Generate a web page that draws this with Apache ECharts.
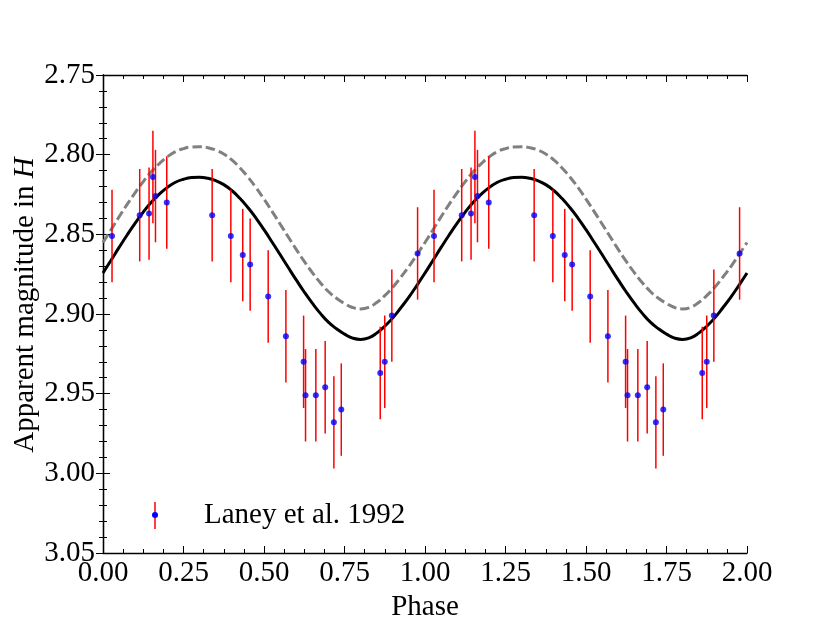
<!DOCTYPE html>
<html>
<head>
<meta charset="utf-8">
<script src="https://cdn.jsdelivr.net/npm/echarts@6/dist/echarts.min.js"></script>
<style>
html,body{margin:0;padding:0;background:#fff;}
#chart{width:830px;height:623px;}
</style>
</head>
<body>
<div id="chart"></div>
<script>
// Observed data (Laney et al. 1992), first cycle and repeated cycle
const phaseCycle1 = [0.028, 0.114, 0.143, 0.155, 0.163, 0.198, 0.339, 0.397, 0.434, 0.457, 0.513, 0.568, 0.623, 0.629, 0.661, 0.690, 0.717, 0.740, 0.861, 0.875, 0.897, 0.977];
const phaseCycle2 = [1.028, 1.114, 1.143, 1.155, 1.163, 1.198, 1.339, 1.397, 1.434, 1.457, 1.513, 1.568, 1.623, 1.629, 1.661, 1.690, 1.717, 1.740, 1.861, 1.875, 1.897, 1.977];
const magnitude = [2.851, 2.838, 2.837, 2.814, 2.826, 2.830, 2.838, 2.851, 2.863, 2.869, 2.889, 2.914, 2.930, 2.951, 2.951, 2.946, 2.968, 2.960, 2.937, 2.930, 2.901, 2.862];
const magError = [0.029, 0.029, 0.029, 0.029, 0.029, 0.029, 0.029, 0.029, 0.029, 0.029, 0.029, 0.029, 0.029, 0.029, 0.029, 0.029, 0.029, 0.029, 0.029, 0.029, 0.029, 0.029];

// Model curves
const modelPhase = [
  0.000, 0.025, 0.050, 0.075, 0.100, 0.125, 0.150, 0.175, 0.200, 0.225, 0.250, 0.275, 0.300, 0.325, 0.350, 0.375, 0.400, 0.425, 0.450, 0.475,
  0.500, 0.525, 0.550, 0.575, 0.600, 0.625, 0.650, 0.675, 0.700, 0.725, 0.750, 0.775, 0.800, 0.825, 0.850, 0.875, 0.900, 0.925, 0.950, 0.975,
  1.000, 1.025, 1.050, 1.075, 1.100, 1.125, 1.150, 1.175, 1.200, 1.225, 1.250, 1.275, 1.300, 1.325, 1.350, 1.375, 1.400, 1.425, 1.450, 1.475,
  1.500, 1.525, 1.550, 1.575, 1.600, 1.625, 1.650, 1.675, 1.700, 1.725, 1.750, 1.775, 1.800, 1.825, 1.850, 1.875, 1.900, 1.925, 1.950, 1.975,
  2.000];
const modelSolid = [
  2.8743, 2.8663, 2.8582, 2.8504, 2.8430, 2.8361, 2.8299, 2.8248, 2.8205, 2.8173, 2.8154, 2.8144, 2.8142, 2.8148, 2.8163, 2.8188, 2.8225, 2.8274, 2.8332, 2.8398,
  2.8471, 2.8548, 2.8627, 2.8707, 2.8786, 2.8862, 2.8932, 2.8996, 2.9051, 2.9093, 2.9126, 2.9151, 2.9160, 2.9150, 2.9120, 2.9077, 2.9024, 2.8961, 2.8894, 2.8820,
  2.8743, 2.8663, 2.8582, 2.8504, 2.8430, 2.8361, 2.8299, 2.8248, 2.8205, 2.8173, 2.8154, 2.8144, 2.8142, 2.8148, 2.8163, 2.8188, 2.8225, 2.8274, 2.8332, 2.8398,
  2.8471, 2.8548, 2.8627, 2.8707, 2.8786, 2.8862, 2.8932, 2.8996, 2.9051, 2.9093, 2.9126, 2.9151, 2.9160, 2.9150, 2.9120, 2.9077, 2.9024, 2.8961, 2.8894, 2.8820,
  2.8743];
const modelDashed = [
  2.8551, 2.8471, 2.8390, 2.8312, 2.8238, 2.8169, 2.8107, 2.8056, 2.8013, 2.7981, 2.7962, 2.7952, 2.7950, 2.7956, 2.7971, 2.7996, 2.8033, 2.8082, 2.8140, 2.8206,
  2.8279, 2.8356, 2.8435, 2.8515, 2.8594, 2.8670, 2.8740, 2.8804, 2.8859, 2.8901, 2.8934, 2.8959, 2.8968, 2.8958, 2.8928, 2.8885, 2.8832, 2.8769, 2.8702, 2.8628,
  2.8551, 2.8471, 2.8390, 2.8312, 2.8238, 2.8169, 2.8107, 2.8056, 2.8013, 2.7981, 2.7962, 2.7952, 2.7950, 2.7956, 2.7971, 2.7996, 2.8033, 2.8082, 2.8140, 2.8206,
  2.8279, 2.8356, 2.8435, 2.8515, 2.8594, 2.8670, 2.8740, 2.8804, 2.8859, 2.8901, 2.8934, 2.8959, 2.8968, 2.8958, 2.8928, 2.8885, 2.8832, 2.8769, 2.8702, 2.8628,
  2.8551];

// Axis ticks
const xTicks = ['0.00', '0.25', '0.50', '0.75', '1.00', '1.25', '1.50', '1.75', '2.00'];
const yTicks = ['2.75', '2.80', '2.85', '2.90', '2.95', '3.00', '3.05'];
const legendLabel = 'Laney et al. 1992';

const FONT = 'Liberation Serif';

const obs = [];
phaseCycle1.forEach((p, i) => obs.push([p, magnitude[i], magError[i]]));
phaseCycle2.forEach((p, i) => obs.push([p, magnitude[i], magError[i]]));

const solid = modelPhase.map((p, i) => [p, modelSolid[i]]);
const dashed = modelPhase.map((p, i) => [p, modelDashed[i]]);

const chart = echarts.init(document.getElementById('chart'), null, {renderer: 'canvas'});

function axisBase() {
  return {
    axisLine: {show: true, lineStyle: {color: '#000', width: 1.3}},
    axisTick: {show: true, inside: true, length: 7, lineStyle: {color: '#000', width: 1}},
    splitLine: {show: false}
  };
}

chart.setOption({
  animation: false,
  backgroundColor: '#fff',
  grid: {left: 103, right: 83, top: 75, bottom: 70, containLabel: false, outerBoundsMode: 'none'},
  xAxis: [
    Object.assign(axisBase(), {
      type: 'value', min: 0, max: 2, interval: 0.25, position: 'bottom',
      name: 'Phase', nameLocation: 'middle', nameGap: 39,
      nameTextStyle: {fontFamily: FONT, fontSize: 29, color: '#000'},
      axisLabel: {fontFamily: FONT, fontSize: 29, color: '#000', margin: 6,
        formatter: v => xTicks[Math.round(v / 0.25)]},
      minorTick: {show: true, splitNumber: 4, length: 4, lineStyle: {color: '#000', width: 1}}
    }),
    Object.assign(axisBase(), {
      type: 'value', min: 0, max: 2, interval: 0.25, position: 'top',
      axisLabel: {show: false},
      minorTick: {show: true, splitNumber: 4, length: 4, lineStyle: {color: '#000', width: 1}}
    })
  ],
  yAxis: [
    Object.assign(axisBase(), {
      type: 'value', min: 2.75, max: 3.05, interval: 0.05, inverse: true, position: 'left',
      axisLabel: {fontFamily: FONT, fontSize: 29, color: '#000', margin: 8,
        formatter: v => yTicks[Math.round((v - 2.75) / 0.05)]},
      minorTick: {show: true, splitNumber: 5, length: 4, lineStyle: {color: '#000', width: 1}}
    }),
    Object.assign(axisBase(), {
      type: 'value', min: 2.75, max: 3.05, interval: 0.05, inverse: true, position: 'right',
      axisLabel: {show: false},
      minorTick: {show: true, splitNumber: 5, length: 4, lineStyle: {color: '#000', width: 1}}
    })
  ],
  graphic: [
    {type: 'text', x: 25, y: 305, rotation: Math.PI / 2, z: 101,
     style: {text: '{a|Apparent magnitude in }{b|H}', align: 'center', verticalAlign: 'middle',
       fill: '#000', font: '29px "Liberation Serif"',
       rich: {a: {fontFamily: FONT, fontSize: 29, fill: '#000', color: '#000'},
              b: {fontFamily: FONT, fontSize: 29, fill: '#000', color: '#000', fontStyle: 'italic'}}}},
    {type: 'line', shape: {x1: 155, y1: 502, x2: 155, y2: 529}, style: {stroke: '#ff0000', lineWidth: 1.5}, z: 100},
    {type: 'circle', shape: {cx: 155, cy: 515, r: 3}, style: {fill: '#0000ff'}, z: 101},
    {type: 'text', left: 204, top: 501, style: {text: legendLabel, font: '29px "Liberation Serif"', fill: '#000'}, z: 101}
  ],
  series: [
    {type: 'line', data: dashed, smooth: true, symbol: 'none', xAxisIndex: 0, yAxisIndex: 0,
     lineStyle: {color: '#808080', width: 3, type: [9.5, 4]}, z: 2},
    {type: 'line', data: solid, smooth: true, symbol: 'none', xAxisIndex: 0, yAxisIndex: 0,
     lineStyle: {color: '#000', width: 3}, z: 3},
    {type: 'custom', xAxisIndex: 0, yAxisIndex: 0, data: obs, z: 4,
     renderItem: function (params, api) {
       const x = api.value(0), y = api.value(1), e = api.value(2);
       const p1 = api.coord([x, y - e]);
       const p2 = api.coord([x, y + e]);
       return {type: 'line', shape: {x1: p1[0], y1: p1[1], x2: p2[0], y2: p2[1]},
               style: {stroke: '#ff0000', lineWidth: 1.5}};
     },
     encode: {x: 0, y: 1}},
    {type: 'scatter', xAxisIndex: 0, yAxisIndex: 0, data: obs.map(d => [d[0], d[1]]),
     symbol: 'circle', symbolSize: 6, itemStyle: {color: '#0000ff'}, z: 5}
  ]
});
</script>
</body>
</html>
